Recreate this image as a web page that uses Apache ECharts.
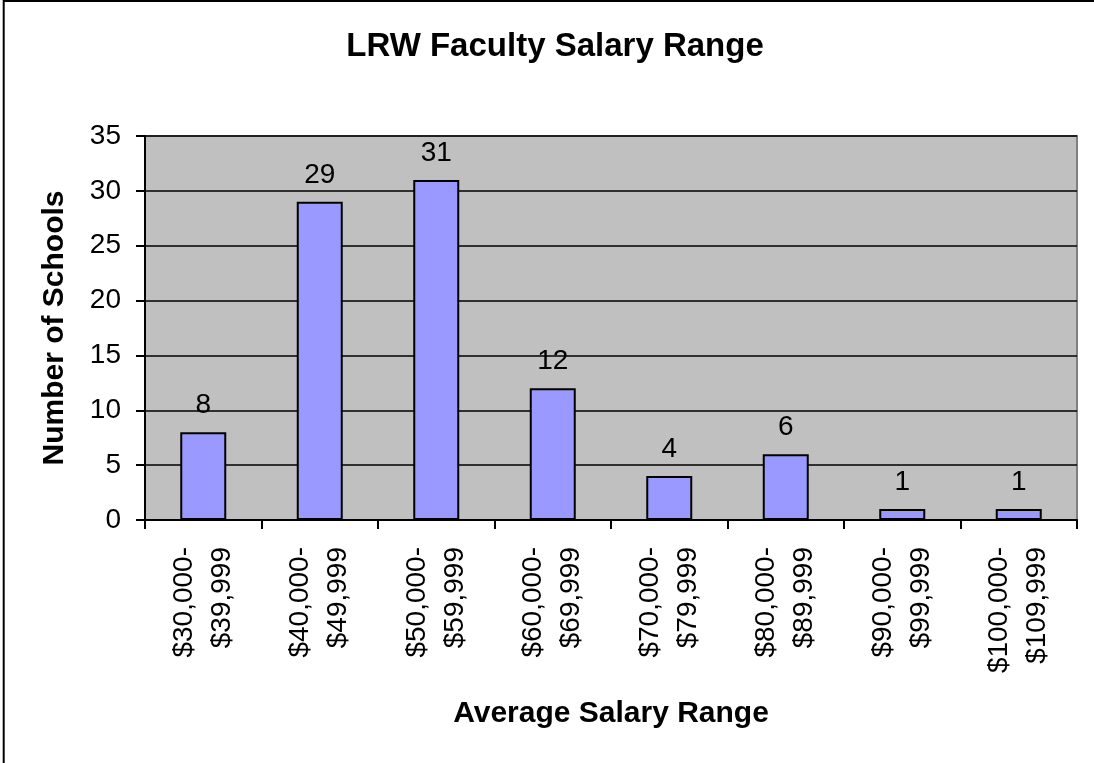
<!DOCTYPE html>
<html><head><meta charset="utf-8">
<script src="https://cdn.jsdelivr.net/npm/echarts@6/dist/echarts.min.js"></script>
<style>html,body{margin:0;padding:0;background:#fff}#c{width:1094px;height:763px}</style>
</head><body><div id="c"></div>
<script>
var categories = ['$30,000-\n$39,999','$40,000-\n$49,999','$50,000-\n$59,999','$60,000-\n$69,999','$70,000-\n$79,999','$80,000-\n$89,999','$90,000-\n$99,999','$100,000-\n$109,999'];
var schools = [8, 29, 31, 12, 4, 6, 1, 1];
var yTicks = [0, 5, 10, 15, 20, 25, 30, 35];
var FONT = 'Liberation Sans, Arial, sans-serif';
var chart = echarts.init(document.getElementById('c'));
chart.setOption({
  animation: false,
  backgroundColor: '#fff',
  title: {text: 'LRW Faculty Salary Range', left: 550, top: 25, textAlign: 'center',
    textStyle: {fontFamily: FONT, fontWeight: 'bold', fontSize: 33, color: '#000'}},
  grid: {left: 145, top: 136, width: 932, height: 384, backgroundColor: '#C0C0C0', show: true, borderColor: '#808080', borderWidth: 2},
  xAxis: {type: 'category', data: categories,
    name: 'Average Salary Range', nameLocation: 'middle', nameGap: 179,
    nameTextStyle: {fontFamily: FONT, fontWeight: 'bold', fontSize: 30, color: '#000'},
    axisLine: {lineStyle: {color: '#000', width: 2}},
    axisTick: {show: true, length: 9, lineStyle: {color: '#000', width: 2}},
    axisLabel: {rotate: 90, fontFamily: FONT, fontSize: 28, color: '#000', margin: 27, lineHeight: 38}
  },
  yAxis: {type: 'value', min: 0, max: 35, interval: 5,
    name: 'Number of Schools', nameLocation: 'middle', nameGap: 75,
    nameTextStyle: {fontFamily: FONT, fontWeight: 'bold', fontSize: 30, color: '#000'},
    axisLine: {show: true, lineStyle: {color: '#000', width: 2}},
    axisTick: {show: true, length: 9, lineStyle: {color: '#000', width: 2}},
    axisLabel: {fontFamily: FONT, fontSize: 28, color: '#000', margin: 24,
      formatter: function(v){ return yTicks.indexOf(v) >= 0 ? String(v) : ''; }},
    splitLine: {show: true, lineStyle: {color: '#000', width: 1.5}}
  },
  series: [{type: 'bar', data: schools, barWidth: 46,
    itemStyle: {color: '#9999FF', borderColor: '#000', borderWidth: 2},
    label: {show: true, position: 'top', distance: 13, fontFamily: FONT, fontSize: 28, color: '#000'}
  }],
  graphic: [
    {type: 'line', shape: {x1: 3, y1: 1, x2: 1094, y2: 1}, style: {stroke: '#000', lineWidth: 2}, silent: true},
    {type: 'line', shape: {x1: 3.7, y1: 0, x2: 3.7, y2: 763}, style: {stroke: '#000', lineWidth: 2}, silent: true}
  ]
});
</script></body></html>
